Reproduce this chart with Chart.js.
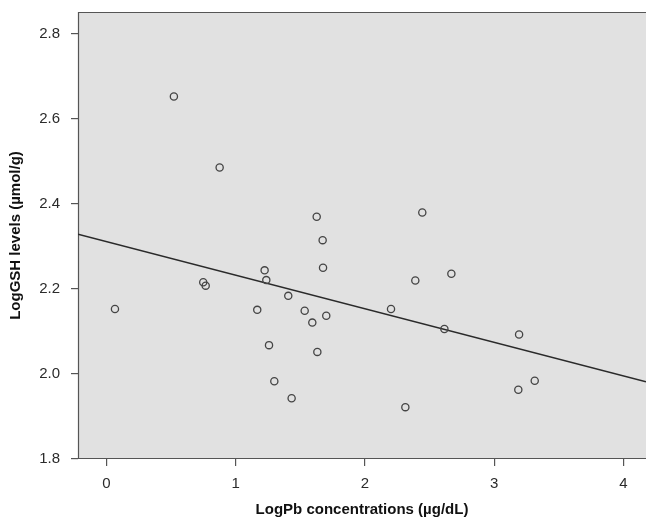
<!DOCTYPE html>
<html>
<head>
<meta charset="utf-8">
<script src="https://cdn.jsdelivr.net/npm/chart.js@4/dist/chart.umd.min.js"></script>
<style>
  html, body { margin: 0; padding: 0; background: #fff; overflow: hidden; }
</style>
</head>
<body>
<canvas id="chart" width="646" height="520"></canvas>
<script>
// LogPb (x) vs LogGSH (y), one entry per subject
const logPb = [0.066, 0.522, 0.876, 0.749, 0.768, 1.167, 1.224, 1.237, 1.258, 1.299,
  1.407, 1.433, 1.534, 1.593, 1.627, 1.632, 1.673, 1.676, 1.701, 2.202,
  2.313, 2.390, 2.444, 2.615, 2.669, 3.187, 3.193, 3.314];
const logGsh = [2.153, 2.653, 2.486, 2.216, 2.208, 2.151, 2.244, 2.221, 2.068, 1.983,
  2.184, 1.943, 2.149, 2.121, 2.370, 2.052, 2.315, 2.250, 2.137, 2.153,
  1.922, 2.220, 2.380, 2.106, 2.236, 1.963, 2.093, 1.984];

// fit line, read at the two edges of the plot
const fitX = [-0.22, 4.175];
const fitY = [2.329, 1.982];

const xTicks = [0, 1, 2, 3, 4];
const yTicks = [1.8, 2.0, 2.2, 2.4, 2.6, 2.8];

const points = logPb.map((x, i) => ({ x: x, y: logGsh[i] }));
const fitLine = fitX.map((x, i) => ({ x: x, y: fitY[i] }));

const plotBackground = {
  id: 'plotBackground',
  beforeDraw(chart) {
    const { ctx, chartArea: a } = chart;
    ctx.save();
    ctx.fillStyle = '#e1e1e1';
    ctx.fillRect(a.left, a.top, a.right - a.left, a.bottom - a.top);
    ctx.strokeStyle = '#555';
    ctx.lineWidth = 1.2;
    ctx.beginPath();
    ctx.moveTo(a.right + 2, a.top + 0.5);
    ctx.lineTo(a.left + 0.5, a.top + 0.5);
    ctx.lineTo(a.left + 0.5, a.bottom - 0.5);
    ctx.lineTo(a.right + 2, a.bottom - 0.5);
    ctx.stroke();
    ctx.restore();
  }
};

function noEdgePadding(scale) {
  scale.paddingTop = 0;
  scale.paddingBottom = 0;
  scale.paddingLeft = 0;
  scale.paddingRight = 0;
}

const tickFont = { family: '"Liberation Sans", Arial, sans-serif', size: 15 };
const titleFont = { family: '"Liberation Sans", Arial, sans-serif', size: 15, weight: 'bold' };

new Chart(document.getElementById('chart'), {
  type: 'scatter',
  data: {
    datasets: [{
      data: points,
      pointRadius: 3.6,
      pointBorderWidth: 1.3,
      pointBorderColor: '#444',
      pointBackgroundColor: 'rgba(0,0,0,0)',
      showLine: false
    }, {
      type: 'line',
      data: fitLine,
      borderColor: '#2a2a2a',
      borderWidth: 1.5,
      pointRadius: 0,
      fill: false
    }]
  },
  options: {
    responsive: false,
    animation: false,
    layout: { autoPadding: false, padding: { top: 12, left: 0, right: 0, bottom: 0 } },
    plugins: { legend: { display: false }, tooltip: { enabled: false } },
    scales: {
      x: {
        type: 'linear',
        min: fitX[0],
        max: fitX[1],
        afterFit(scale) { scale.height = 61; noEdgePadding(scale); },
        afterBuildTicks(scale) { scale.ticks = xTicks.map(v => ({ value: v })); },
        grid: { drawOnChartArea: false, drawTicks: true, tickLength: 7, color: '#555', lineWidth: 1.2 },
        border: { display: false },
        ticks: { font: tickFont, color: '#2b2b2b', padding: 9, callback: v => String(v) },
        title: {
          display: true,
          text: 'LogPb concentrations (µg/dL)',
          font: titleFont,
          color: '#111',
          padding: { top: 0, bottom: 1 }
        }
      },
      y: {
        type: 'linear',
        min: 1.8,
        max: 2.852,
        afterFit(scale) { scale.width = 78; noEdgePadding(scale); },
        afterBuildTicks(scale) { scale.ticks = yTicks.map(v => ({ value: v })); },
        grid: { drawOnChartArea: false, drawTicks: true, tickLength: 7, color: '#555', lineWidth: 1.2 },
        border: { display: false },
        ticks: { font: tickFont, color: '#2b2b2b', padding: 11, callback: v => v.toFixed(1) },
        title: {
          display: true,
          text: 'LogGSH levels (µmol/g)',
          font: titleFont,
          color: '#111',
          padding: { top: 7, bottom: 0 }
        }
      }
    }
  },
  plugins: [plotBackground]
});
</script>
</body>
</html>
